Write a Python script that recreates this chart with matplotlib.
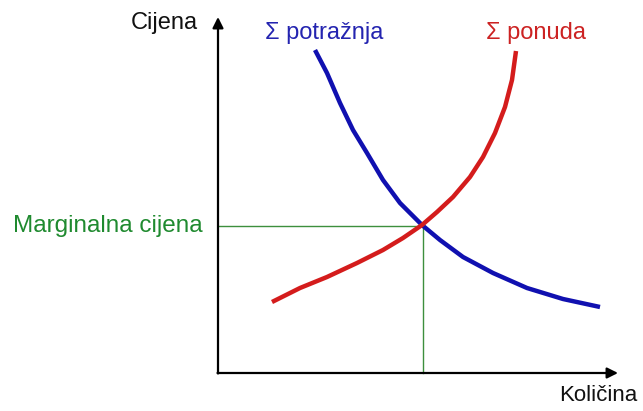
import matplotlib
matplotlib.use("Agg")
import matplotlib.pyplot as plt

plt.rcParams['font.family'] = ['Liberation Sans', 'DejaVu Sans']

# Demand curve (quantity, price) in chart units
demand_q = [97, 109, 122, 135, 149, 165, 182, 204, 222, 245, 275, 309, 345, 382]
demand_p = [323, 300, 270, 243, 220, 193, 170, 148, 133, 116, 100, 85, 74, 66]

# Supply curve
supply_q = [54, 82, 109, 139, 165, 185, 204, 219, 235, 252, 265, 277, 287, 294, 298]
supply_p = [71, 85, 96, 110, 123, 135, 148, 161, 176, 196, 216, 240, 266, 293, 322]

eq_q, eq_p = 205, 147
x_max, y_max = 400, 356

labels = {
    'price': 'Cijena',
    'quantity': 'Količina',
    'demand': 'Σ potražnja',
    'supply': 'Σ ponuda',
    'marginal': 'Marginalna cijena',
}

fig = plt.figure(figsize=(6.43, 4.11), dpi=100)
ax = fig.add_axes([0, 0, 1, 1])
ax.set_xlim(-218, 425)
ax.set_ylim(-38, 373)
ax.axis('off')

# axes with arrows
arrow = dict(arrowstyle='-|>', color='black', lw=1.6, mutation_scale=16, shrinkA=0, shrinkB=0)
ax.annotate('', xy=(0, y_max), xytext=(0, -0.5), arrowprops=arrow)
ax.annotate('', xy=(x_max, 0), xytext=(-0.5, 0), arrowprops=arrow)

# guide lines
green = '#3d8f3d'
ax.plot([0, eq_q], [eq_p, eq_p], color=green, lw=1.0)
ax.plot([eq_q, eq_q], [0, eq_p], color=green, lw=1.0)

ax.plot(demand_q, demand_p, color='#1010b0', lw=3.2, solid_capstyle='butt', solid_joinstyle='round')
ax.plot(supply_q, supply_p, color='#d41c1c', lw=3.2, solid_capstyle='butt', solid_joinstyle='round')

ax.text(-20, 350, labels['price'], ha='right', va='center', fontsize=17, color='#111111')
ax.text(419, -22, labels['quantity'], ha='right', va='center', fontsize=16, color='#111111')
ax.text(47, 340, labels['demand'], ha='left', va='center', fontsize=17, color='#2424b0')
ax.text(268, 340, labels['supply'], ha='left', va='center', fontsize=17, color='#cc2222')
ax.text(-15, eq_p, labels['marginal'], ha='right', va='center', fontsize=17.5, color='#1f8a2f')

fig.savefig('out.png', dpi=100)
